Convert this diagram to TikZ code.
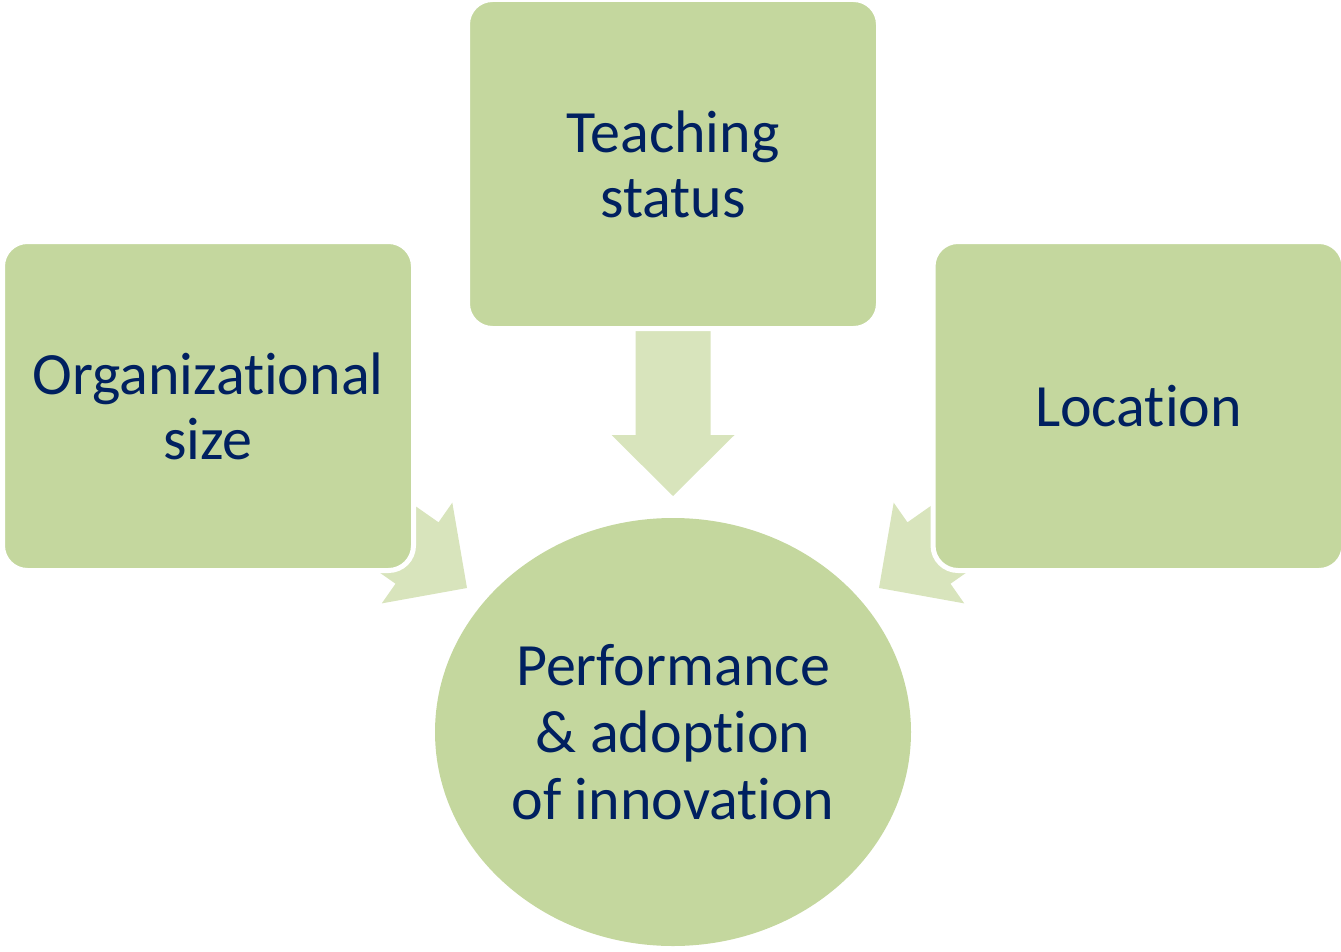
\documentclass[tikz,border=0pt]{standalone}
\usepackage{fontspec}
\setmainfont[Ligatures=NoCommon]{Carlito}
\usetikzlibrary{shapes.geometric}

\definecolor{boxgreen}{RGB}{196,215,158}
\definecolor{arrowgreen}{RGB}{216,228,188}
\definecolor{navy}{RGB}{0,32,96}

\begin{document}
\begin{tikzpicture}[x=1pt,y=-1pt,
  factor/.style={rectangle,rounded corners=25pt,fill=boxgreen,draw=white,line width=5pt,
    minimum width=411pt,minimum height=329pt,inner sep=0pt,align=center,text=navy,
    font=\fontsize{60}{65}\selectfont},
  outcome/.style={ellipse,fill=boxgreen,minimum width=476pt,minimum height=428pt,
    inner sep=0pt,align=center,text=navy,font=\fontsize{60}{67}\selectfont},
  block arrow/.style={fill=arrowgreen}]

  \useasboundingbox (0,0) rectangle (1341,952);

  \node[outcome] (p) at (673,732) {Performance \\ \& adoption \\ of innovation};

  % fat arrows first, the boxes cover their tails
  \coordinate (tipt) at (673,496);
  \coordinate (tipo) at (467,588);
  \coordinate (tipl) at (879,588);
  \foreach \tip/\ang in {tipt/-90, tipo/-35, tipl/-145}
    \fill[block arrow,shift={(\tip)},rotate=\ang]
      (0,0) -- (-61,61.5) -- (-61,37.5) -- (-165,37.5)
      -- (-165,-37.5) -- (-61,-37.5) -- (-61,-61.5) -- cycle;

  \node[factor] (t) at (673,164) {Teaching \\ status};
  \node[factor] (o) at (208,406) {Organizational \\ size};
  \node[factor] (l) at (1138.5,406) {Location};
\end{tikzpicture}
\end{document}
